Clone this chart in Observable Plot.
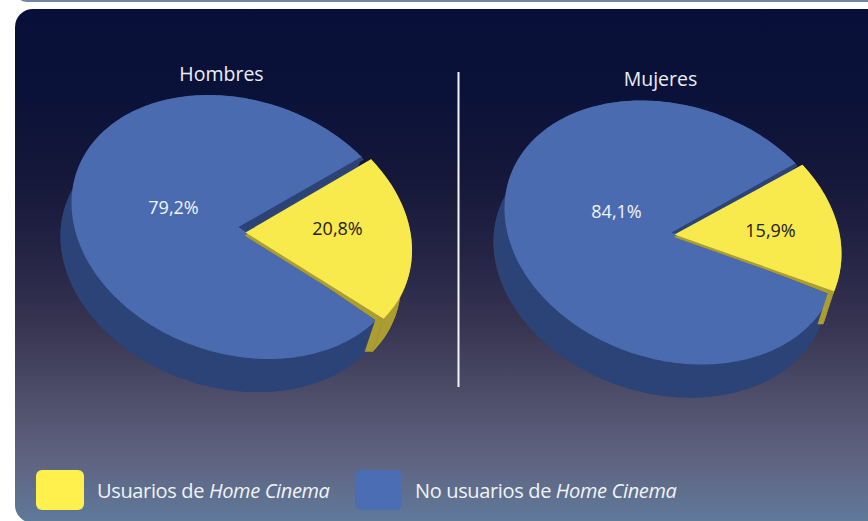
<!DOCTYPE html>
<html>
<head>
<meta charset="utf-8">
<script src="https://cdn.jsdelivr.net/npm/d3@7"></script>
<script src="https://cdn.jsdelivr.net/npm/@observablehq/plot@0.6"></script>
<style>
html,body{margin:0;padding:0;background:#fff;width:868px;height:521px;overflow:hidden;font-family:"Open Sans",sans-serif}
#strip{position:absolute;left:15px;top:-10px;width:880px;height:11.5px;background:#6f86ab;border-radius:0 0 14px 14px}
#panel{position:absolute;left:15px;top:9px;width:880px;height:514px;border-radius:18px;
background:linear-gradient(to bottom,#080f38 0%,#0b1239 17%,#141739 32%,#252445 48%,#383552 62%,#4f4f6b 76%,#5f6481 88%,#5f7a9b 100%)}
#chart{position:absolute;left:0;top:0}
#legend{position:absolute;left:0;top:0;color:#f2f3f7;font-size:20px;letter-spacing:-.35px}
.sw{position:absolute;top:470px;width:47.5px;height:39.5px;border-radius:6px}
.lb{position:absolute;top:477px;white-space:nowrap;line-height:27px}
</style>
</head>
<body>
<div id="strip"></div>
<div id="panel"></div>
<div id="chart"></div>
<div id="legend">
  <div class="sw" style="left:36px;background:#fff04d"></div>
  <div class="lb" style="left:97px">Usuarios de <i>Home Cinema</i></div>
  <div class="sw" style="left:354.5px;background:#4a6db3"></div>
  <div class="lb" style="left:415px">No usuarios de <i>Home Cinema</i></div>
</div>
<script>
// Data
const groups = ["Hombres", "Mujeres"];
const usuarios = [20.8, 15.9];
const noUsuarios = [79.2, 84.1];

// Layout of each tilted pie, kept apart from the values
const layout = [
  {c:[238,226.5], apexY:[245,232], arcY:[244.5,226], start:-41, gapLow:0.8, gapHigh:1.5, cornerW:8,   title:[221,74], labelU:[337,229], labelN:[173,208], lip:[-1,3]},
  {c:[671,232],   apexY:[674,234], arcY:[674,229.5], start:-40, gapLow:0.5, gapHigh:2,   cornerW:5.5, title:[660,79], labelU:[770,231], labelN:[616,212], lip:[-0.6,2.4]}
];
const Rx = 167, Ry = 132, skew = 10.4, depth = [-11,33], bevel = [2,3];
const rad = Math.PI/180;
const blue="#4a6bb0", blueSide="#2c4377", yellow="#f8e94c", yellowSide="#ab9d30";

const pt = (c,t) => [c[0]+Rx*Math.cos(t*rad), c[1]+Ry*Math.sin((t+skew)*rad)];
const move = (p,s) => [p[0]+s[0], p[1]+s[1]];
function arc(c,t0,span){
  const out=[]; const n=Math.ceil(span);
  for(let i=0;i<=n;i++) out.push(pt(c,t0+span*i/n));
  return out;
}
const wedge = (a,c,t0,span) => [a,...arc(c,t0,span)];
const strip = (c,t0,span,s) => { const a=arc(c,t0,span); return [...a,...a.map(p=>move(p,s)).reverse()]; };
const face = (a,c,t,s) => { const e=pt(c,t); return [a,e,move(e,s),move(a,s)]; };

let uid=0;
function polys(list,fill){
  const rows=[];
  for(const pts of list){ const id=uid++; for(const p of pts) rows.push({x:p[0],y:p[1],id}); }
  return Plot.line(rows,{x:"x",y:"y",z:"id",fill,stroke:"none",curve:"linear"});
}

const marks=[];
groups.forEach((g,i)=>{
  const L=layout[i];
  const c=L.c, ay=L.apexY, cy=L.arcY;
  const spanU=usuarios[i]*3.6, spanN=noUsuarios[i]*3.6;
  const t0=L.start, t1=t0+spanU;
  const b0=t1+L.gapLow, bSpan=spanN-L.gapLow-L.gapHigh;
  // yellow body
  marks.push(polys([
    strip(cy,t0,spanU,depth),
    wedge(move(ay,depth),move(cy,depth),t0,spanU),
    face(ay,cy,t0,depth),
    face(ay,cy,t1,depth)
  ],yellowSide));
  // blue body
  marks.push(polys([
    strip(c,b0,bSpan,depth),
    wedge(move(c,depth),move(c,depth),b0,bSpan),
    face(c,c,b0,depth),
    face(c,c,b0+bSpan,bevel)
  ],blueSide));
  // blue top
  marks.push(polys([wedge(c,c,b0,bSpan)],blue));
  // yellow cut face at the front corner, with its seam
  const e=pt(cy,t1), e2=move(e,[-L.cornerW,0]);
  marks.push(polys([[e,e2,move(e2,depth),move(e,depth)]],yellowSide));
  marks.push(Plot.link([{a:e,b:move(e,depth)}],{
    x1:d=>d.a[0],y1:d=>d.a[1],x2:d=>d.b[0],y2:d=>d.b[1],stroke:"#8f8a5a",strokeWidth:0.6,strokeDasharray:"2,1"}));
  // yellow lip and top
  marks.push(polys([wedge(move(ay,L.lip),move(cy,L.lip),t0,spanU)],yellowSide));
  marks.push(polys([wedge(ay,cy,t0,spanU)],yellow));
  const fmt=v=>v.toFixed(1).replace(".",",")+"%";
  marks.push(Plot.text([g],{x:()=>L.title[0],y:()=>L.title[1],text:d=>d,fill:"#eceef5",fontSize:19.5}));
  marks.push(Plot.text([noUsuarios[i]],{x:()=>L.labelN[0],y:()=>L.labelN[1],text:fmt,fill:"#f2f4fa",fontSize:18}));
  marks.push(Plot.text([usuarios[i]],{x:()=>L.labelU[0],y:()=>L.labelU[1],text:fmt,fill:"#23211c",fontSize:18}));
});
marks.push(Plot.ruleX([458],{y1:72,y2:387,stroke:"#f4f4f8",strokeWidth:2}));

const chart=Plot.plot({
  width:868,height:521,margin:0,
  x:{domain:[0,868],range:[0,868],axis:null},
  y:{domain:[0,521],range:[0,521],axis:null},
  style:{background:"transparent",fontFamily:"'Open Sans',sans-serif"},
  marks
});
document.getElementById("chart").appendChild(chart);
</script>
</body>
</html>
